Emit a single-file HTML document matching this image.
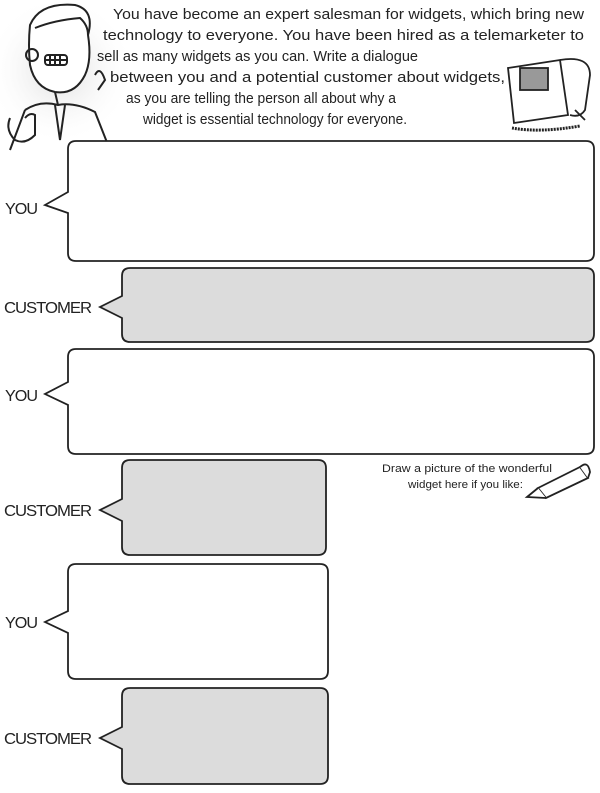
<!DOCTYPE html>
<html><head><meta charset="utf-8"><style>
html,body{margin:0;padding:0;background:#fff;}
svg{display:block}
text{font-family:"Liberation Sans",sans-serif;fill:#222}
</style></head><body>
<svg width="600" height="793" viewBox="0 0 600 793">
<defs><radialGradient id="g" cx="0.5" cy="0.5" r="0.5"><stop offset="0" stop-color="#ddd"/><stop offset="1" stop-color="#fff" stop-opacity="0"/></radialGradient></defs>
<ellipse cx="60" cy="70" rx="75" ry="75" fill="url(#g)"/>
<g fill="none" stroke="#222" stroke-width="2">
<path d="M30 25 Q40 2 75 5 Q95 10 88 35 Q92 60 85 75 Q75 95 55 92 Q35 88 30 65 Q28 45 30 25Z" fill="#fff"/>
<path d="M35 28 Q55 20 80 18 Q88 25 88 35"/>
<rect x="45" y="55" width="22" height="10" rx="3" fill="#fff"/>
<path d="M50 55v10M55 55v10M60 55v10M45 60h22"/>
<path d="M55 92 L58 105 M25 110 Q40 100 58 105 Q75 102 95 112 L110 150 M10 150 L25 110"/>
<path d="M55 105 L60 140 L65 105"/>
<path d="M10 118 Q5 130 15 140 Q25 145 35 135 L35 115 Q30 112 25 118"/>
<path d="M95 75 Q100 65 105 80 L98 90"/>
<circle cx="32" cy="55" r="6"/>
</g>
<g fill="none" stroke="#222" stroke-width="1.8">
<path d="M508 68 L560 60 L568 115 L514 123 Z" fill="#fff"/>
<rect x="520" y="68" width="28" height="22" fill="#999"/>
<path d="M560 60 Q590 55 590 75 L585 110 Q580 118 570 115"/>
<path d="M512 128 Q540 133 580 126" stroke-dasharray="2 1" stroke-width="3"/>
<path d="M575 110 L585 120"/>
</g>
<g font-size="14.5">
<text x="113" y="19" textLength="471" lengthAdjust="spacingAndGlyphs">You have become an expert salesman for widgets, which bring new</text>
<text x="103" y="40" textLength="481" lengthAdjust="spacingAndGlyphs">technology to everyone.  You have been hired as a telemarketer to</text>
<text x="97" y="61" textLength="321" lengthAdjust="spacingAndGlyphs">sell as many widgets as you can.  Write a dialogue</text>
<text x="110" y="82" textLength="395" lengthAdjust="spacingAndGlyphs">between you and a potential customer about widgets,</text>
<text x="126" y="103" textLength="270" lengthAdjust="spacingAndGlyphs">as you are telling the person all about why a</text>
<text x="143" y="124" textLength="264" lengthAdjust="spacingAndGlyphs">widget is essential technology for everyone.</text>
</g>
<g stroke="#222" stroke-width="1.8">
<path d="M76 141 H586 Q594 141 594 149 V253 Q594 261 586 261 H76 Q68 261 68 253 V213 L45 205 L68 192 V149 Q68 141 76 141Z" fill="#fff"/>
<path d="M130 268 H586 Q594 268 594 276 V334 Q594 342 586 342 H130 Q122 342 122 334 V318 L100 307 L122 296 V276 Q122 268 130 268Z" fill="#dcdcdc"/>
<path d="M76 349 H586 Q594 349 594 357 V446 Q594 454 586 454 H76 Q68 454 68 446 V405 L45 394 L68 382 V357 Q68 349 76 349Z" fill="#fff"/>
<path d="M130 460 H318 Q326 460 326 468 V547 Q326 555 318 555 H130 Q122 555 122 547 V521 L100 510 L122 499 V468 Q122 460 130 460Z" fill="#dcdcdc"/>
<path d="M76 564 H320 Q328 564 328 572 V671 Q328 679 320 679 H76 Q68 679 68 671 V633 L45 622 L68 611 V572 Q68 564 76 564Z" fill="#fff"/>
<path d="M130 688 H320 Q328 688 328 696 V776 Q328 784 320 784 H130 Q122 784 122 776 V749 L100 738 L122 727 V696 Q122 688 130 688Z" fill="#dcdcdc"/>
</g>
<g font-size="16" letter-spacing="-1">
<text x="5" y="214" textLength="32" lengthAdjust="spacingAndGlyphs">YOU</text>
<text x="4" y="313" textLength="87" lengthAdjust="spacingAndGlyphs">CUSTOMER</text>
<text x="5" y="401" textLength="32" lengthAdjust="spacingAndGlyphs">YOU</text>
<text x="4" y="516" textLength="87" lengthAdjust="spacingAndGlyphs">CUSTOMER</text>
<text x="5" y="628" textLength="32" lengthAdjust="spacingAndGlyphs">YOU</text>
<text x="4" y="744" textLength="87" lengthAdjust="spacingAndGlyphs">CUSTOMER</text>
</g>
<g font-size="11">
<text x="382" y="472" textLength="170" lengthAdjust="spacingAndGlyphs">Draw a picture of the wonderful</text>
<text x="408" y="488" textLength="115" lengthAdjust="spacingAndGlyphs">widget here if you like:</text>
</g>
<g fill="#fff" stroke="#222" stroke-width="1.8">
<path d="M538 488 L580 467 L588 478 L546 498 Z"/>
<path d="M538 488 L527 497 L546 498"/>
<path d="M580 467 Q588 460 590 472 L588 478"/>
</g>
</svg>
</body></html>
